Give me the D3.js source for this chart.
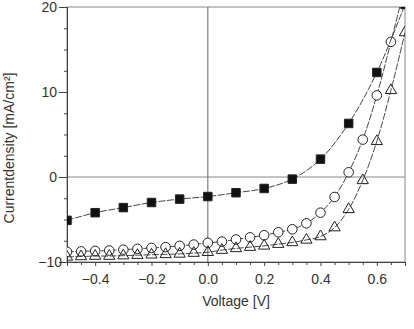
<!DOCTYPE html>
<html><head><meta charset="utf-8">
<script src="https://cdn.jsdelivr.net/npm/d3@7"></script>
<style>body{margin:0;background:#fff}svg{display:block}text{font-family:"Liberation Sans",Arial,sans-serif;fill:#333}</style>
</head><body>
<svg id="c" width="414" height="329"></svg>
<script>
const xTicks = [-0.4, -0.2, 0.0, 0.2, 0.4, 0.6];
const yTicks = [-10, 0, 10, 20];
const vSquare = [-0.5,-0.4,-0.3,-0.2,-0.1,0.0,0.1,0.2,0.3,0.4,0.5,0.6,0.7];
const jSquare = [-5.1,-4.2,-3.6,-3.0,-2.6,-2.3,-1.85,-1.35,-0.25,2.1,6.3,12.3,20.3];
const vFine = [-0.5,-0.45,-0.4,-0.35,-0.3,-0.25,-0.2,-0.15,-0.1,-0.05,0.0,0.05,0.1,0.15,0.2,0.25,0.3,0.35,0.4,0.45,0.5,0.55,0.6,0.65,0.7];
const jCircle = [-8.8,-8.75,-8.7,-8.65,-8.55,-8.45,-8.35,-8.25,-8.1,-7.95,-7.75,-7.6,-7.35,-7.1,-6.85,-6.5,-6.15,-5.45,-4.2,-2.35,0.55,4.4,9.6,15.9,22.5];
const jTriangle = [-9.4,-9.35,-9.3,-9.3,-9.25,-9.2,-9.15,-9.1,-9.05,-8.95,-8.85,-8.6,-8.4,-8.25,-8.1,-7.9,-7.7,-7.4,-7.0,-5.95,-3.8,-0.4,4.2,10.2,17.0];

const svg = d3.select("#c");
const L = 67, R = 405, T = 7, B = 262;
const x = d3.scaleLinear().domain([-0.5, 0.7]).range([L, R]);
const y = d3.scaleLinear().domain([-10, 20]).range([B, T]);

svg.append("defs").append("clipPath").attr("id","clip")
  .append("rect").attr("x",L).attr("y",T).attr("width",R-L).attr("height",B-T);

svg.append("rect").attr("x",L).attr("y",T).attr("width",R-L).attr("height",B-T)
  .attr("fill","none").attr("stroke","#888").attr("stroke-width",1);
svg.append("line").attr("x1",L).attr("x2",R).attr("y1",y(0)).attr("y2",y(0)).attr("stroke","#888").attr("stroke-width",1);
svg.append("line").attr("x1",x(0)).attr("x2",x(0)).attr("y1",T).attr("y2",B).attr("stroke","#666").attr("stroke-width",1);

const xMinor = d3.range(-0.5, 0.7001, 0.05).filter(v => !xTicks.some(t => Math.abs(t-v) < 1e-6));
const yMinor = d3.range(-10, 20.001, 2.5).filter(v => !yTicks.includes(v));
const gx = svg.append("g").attr("transform",`translate(0,${B})`);
gx.call(d3.axisBottom(x).tickValues(xMinor).tickSize(3).tickFormat(""));
gx.append("g").call(d3.axisBottom(x).tickValues(xTicks).tickSize(4).tickPadding(8).tickFormat(d3.format(".1f")));
const gy = svg.append("g").attr("transform",`translate(${L},0)`);
gy.call(d3.axisLeft(y).tickValues(yMinor).tickSize(3).tickFormat(""));
gy.append("g").call(d3.axisLeft(y).tickValues(yTicks).tickSize(8).tickPadding(2).tickFormat(d3.format("d")));
svg.selectAll(".domain").attr("stroke","#444");
svg.selectAll(".tick line").attr("stroke","#444");
svg.selectAll(".tick text").attr("font-size",14).attr("fill","#333").style("font-family","'Liberation Sans',Arial,sans-serif");
gy.selectAll(".tick text").filter(d => d === -10).attr("dx", 5);

svg.append("text").attr("x",(L+R)/2).attr("y",306).attr("text-anchor","middle").attr("font-size",14).text("Voltage [V]");
svg.append("text").attr("transform",`translate(14,148) rotate(-90)`).attr("text-anchor","middle").attr("font-size",14)
  .text("Currentdensity [mA/cm²]");

const plot = svg.append("g").attr("clip-path","url(#clip)");
const line = d3.line().x(d => x(d[0])).y(d => y(d[1])).curve(d3.curveCatmullRom);
function series(vs, js, sym, size, fill) {
  const data = vs.map((v,i) => [v, js[i]]);
  plot.append("path").datum(data).attr("d", line).attr("fill","none")
    .attr("stroke","#333").attr("stroke-width",0.9).attr("stroke-dasharray","7,1.5");
  plot.selectAll(null).data(data).enter().append("path")
    .attr("d", d3.symbol().type(sym).size(size))
    .attr("transform", d => `translate(${x(d[0])},${y(d[1])})`)
    .attr("fill", fill).attr("stroke","#222").attr("stroke-width",1);
}
series(vFine, jCircle, d3.symbolCircle, 72, "#fff");
series(vFine, jTriangle, d3.symbolTriangle, 55, "none");
series(vSquare, jSquare, d3.symbolSquare, 72, "#111");
</script>
</body></html>
